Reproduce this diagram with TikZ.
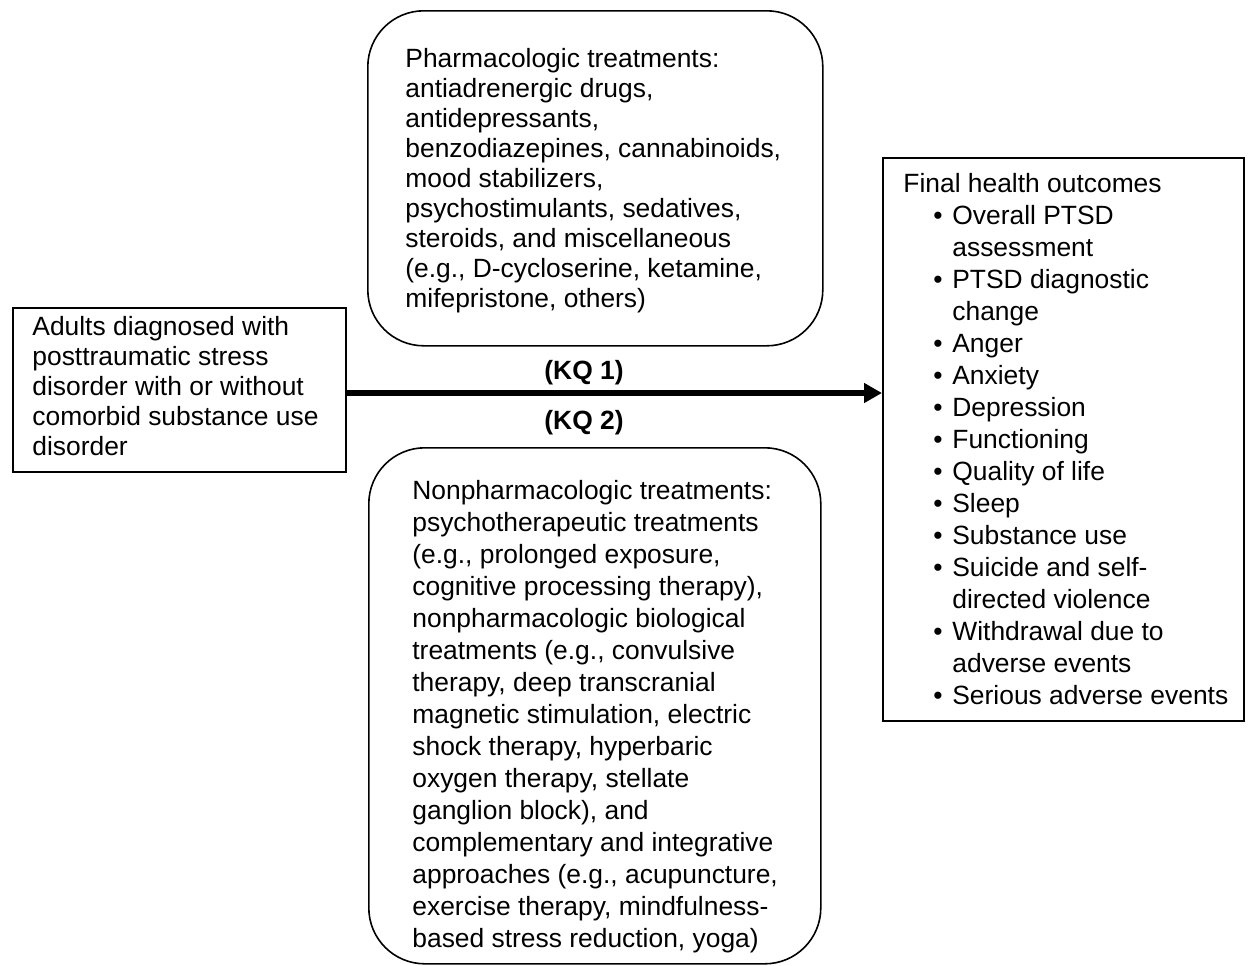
\documentclass[tikz,border=0pt]{standalone}
\usepackage{fontspec}
\setmainfont{Liberation Sans}
\usetikzlibrary{arrows.meta,calc}
\newcommand\itm[1]{\makebox[24.5pt][l]{\hspace{15pt}\textbullet}#1}
\newcommand\cnt[1]{\hspace*{24.5pt}#1}
\begin{document}
\begin{tikzpicture}[x=0.5pt,y=-0.5pt,
  box/.style={draw, line width=0.8pt, inner sep=0pt, anchor=north west},
  rbox/.style={box, rounded corners=28pt},
  txt/.style={inner sep=0pt, anchor=north west, align=left, font=\fontsize{13.2}{15}\selectfont},
  txtb/.style={txt, font=\fontsize{13.2}{16}\selectfont},
  kq/.style={inner sep=0pt, font=\fontsize{13.2}{15}\selectfont\bfseries},
  conn/.style={line width=2.6pt, -{Triangle[length=9pt,width=9.5pt]}}]
\useasboundingbox (0,0) rectangle (1248,965);
% boxes
\node[box, minimum width=166.5pt, minimum height=82pt] (pop) at (12,307) {};
\node[rbox, minimum width=227.5pt, minimum height=167.5pt] (pharm) at (367,10) {};
\node[rbox, minimum width=226pt, minimum height=258pt] (nonph) at (368,447) {};
\node[box, minimum width=180.5pt, minimum height=281.5pt] (out) at (882,157) {};
% texts
\node[txt] (poptxt) at ($(pop.north west)+(20,9)$) {Adults diagnosed with\\posttraumatic stress\\disorder with or without\\comorbid substance use\\disorder};
\node[txt] (pharmtxt) at ($(pharm.north west)+(38,38)$) {Pharmacologic treatments:\\antiadrenergic drugs,\\antidepressants,\\benzodiazepines, cannabinoids,\\mood stabilizers,\\psychostimulants, sedatives,\\steroids, and miscellaneous\\(e.g., D-cycloserine, ketamine,\\mifepristone, others)};
\node[txtb] (nonphtxt) at ($(nonph.north west)+(44,33)$) {Nonpharmacologic treatments:\\psychotherapeutic treatments\\(e.g., prolonged exposure,\\cognitive processing therapy),\\nonpharmacologic biological\\treatments (e.g., convulsive\\therapy, deep transcranial\\magnetic stimulation, electric\\shock therapy, hyperbaric\\oxygen therapy, stellate\\ganglion block), and\\complementary and integrative\\approaches (e.g., acupuncture,\\exercise therapy, mindfulness-\\based stress reduction, yoga)};
\node[txtb] (outtxt) at ($(out.north west)+(21,16)$) {Final health outcomes\\
\itm{Overall PTSD}\\\cnt{assessment}\\
\itm{PTSD diagnostic}\\\cnt{change}\\
\itm{Anger}\\\itm{Anxiety}\\\itm{Depression}\\\itm{Functioning}\\\itm{Quality of life}\\\itm{Sleep}\\\itm{Substance use}\\
\itm{Suicide and self-}\\\cnt{directed violence}\\
\itm{Withdrawal due to}\\\cnt{adverse events}\\
\itm{Serious adverse events}};
% connector
\draw[conn] (pop.east |- 0,393) -- (out.west |- 0,393);
\node[kq] (kq1) at (584,373) {(KQ 1)};
\node[kq] (kq2) at (584,423) {(KQ 2)};
\end{tikzpicture}
\end{document}
